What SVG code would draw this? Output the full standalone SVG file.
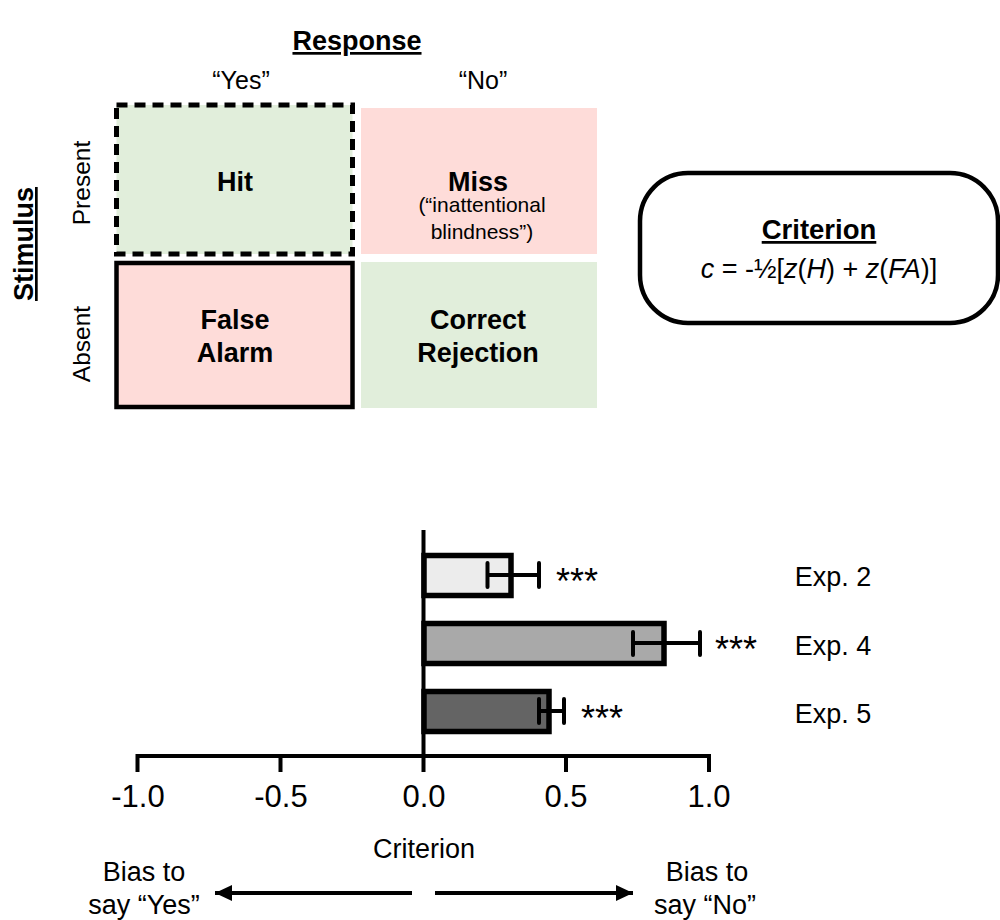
<svg xmlns="http://www.w3.org/2000/svg" width="1000" height="920" viewBox="0 0 1000 920">
<defs>
<style>
text{font-family:"Liberation Sans",Arial,sans-serif;fill:#000;text-anchor:middle}
.b{font-weight:bold;font-size:27px}
.h{font-weight:bold;font-size:27px;text-decoration:underline}
.l{font-size:25px}
.r{font-size:24.500px}
.e{font-size:27px}
.s{font-size:21px}
.t{font-size:31px}
.star{font-size:36px}
.ax{stroke:#000;stroke-width:4;fill:none}
.bar{stroke:#000;stroke-width:5.5}
.err{stroke:#000;stroke-width:4;fill:none;stroke-linecap:round}
</style>
<marker id="ah" markerUnits="userSpaceOnUse" markerWidth="18" markerHeight="18" refX="17" refY="9" orient="auto"><path d="M0,1 L17,9 L0,17 Z" fill="#000"/></marker>
</defs>
<rect width="1000" height="920" fill="#fff"/>
<text class="h" x="357" y="50">Response</text>
<text class="l" x="241" y="89">“Yes”</text>
<text class="l" x="483" y="89">“No”</text>
<text class="h" transform="translate(33,244) rotate(-90)">Stimulus</text>
<text class="r" transform="translate(90,183) rotate(-90)">Present</text>
<text class="r" transform="translate(90,344) rotate(-90)">Absent</text>
<g id="hit"><rect x="116.500" y="105" width="236" height="149" fill="#e1eedb" stroke="#000" stroke-width="5" stroke-dasharray="11 7"/><text class="b" x="235" y="191">Hit</text></g>
<g id="miss"><rect x="361" y="108" width="236" height="146" fill="#fedcd9"/><text class="b" x="478" y="191">Miss</text><text class="s" x="482" y="212">(“inattentional</text><text class="s" x="482" y="239">blindness”)</text></g>
<g id="false-alarm"><rect x="116.500" y="263" width="236" height="144" fill="#fedcd9" stroke="#000" stroke-width="4.5"/><text class="b" x="235" y="329">False</text><text class="b" x="235" y="362">Alarm</text></g>
<g id="correct-rejection"><rect x="361" y="262" width="236" height="146" fill="#e1eedb"/><text class="b" x="478" y="329">Correct</text><text class="b" x="478" y="362">Rejection</text></g>
<g id="criterion-box"><rect x="640" y="173" width="358" height="150" rx="48" ry="48" fill="#fff" stroke="#000" stroke-width="4.500"/><text x="819" y="239" font-size="27.500" font-weight="bold" text-decoration="underline">Criterion</text><text x="819" y="278" font-size="27"><tspan font-style="italic">c</tspan> = -½[<tspan font-style="italic">z</tspan>(<tspan font-style="italic">H</tspan>) + <tspan font-style="italic">z</tspan>(<tspan font-style="italic">FA</tspan>)]</text></g>
<g id="bar-exp2"><rect x="424" y="555.500" width="87" height="40" fill="#ececec" class="bar"/><path class="err" d="M487.500,575H539M487.500,563V587M539,563V587"/><text class="star" x="577" y="594">***</text><text class="e" x="833" y="586">Exp. 2</text></g>
<g id="bar-exp4"><rect x="424" y="623.500" width="240" height="40" fill="#a9a9a9" class="bar"/><path class="err" d="M633,643H700M633,632V655M700,632V655"/><text class="star" x="736" y="662">***</text><text class="e" x="833" y="655">Exp. 4</text></g>
<g id="bar-exp5"><rect x="424" y="691.500" width="125" height="40" fill="#646464" class="bar"/><path class="err" d="M539,711H564M539,699V723M564,699V723"/><text class="star" x="602" y="731">***</text><text class="e" x="833" y="723">Exp. 5</text></g>
<g id="connectors">
<path class="ax" d="M423.500,530V772M137.500,772V756H709V772M280.500,756V772M566,756V772"/>
<path stroke="#000" stroke-width="4" fill="none" marker-end="url(#ah)" d="M412,893H215"/>
<path stroke="#000" stroke-width="4" fill="none" marker-end="url(#ah)" d="M435,893H633"/>
</g>
<g id="axis-labels"><text class="t" x="138" y="807">-1.0</text><text class="t" x="281" y="807">-0.5</text><text class="t" x="424" y="807">0.0</text><text class="t" x="566" y="807">0.5</text><text class="t" x="709" y="807">1.0</text>
<text class="e" x="424" y="858">Criterion</text><text class="e" x="144" y="881">Bias to</text><text class="e" x="144" y="914">say “Yes”</text><text class="e" x="707" y="881">Bias to</text><text class="e" x="705" y="914">say “No”</text></g>
</svg>
